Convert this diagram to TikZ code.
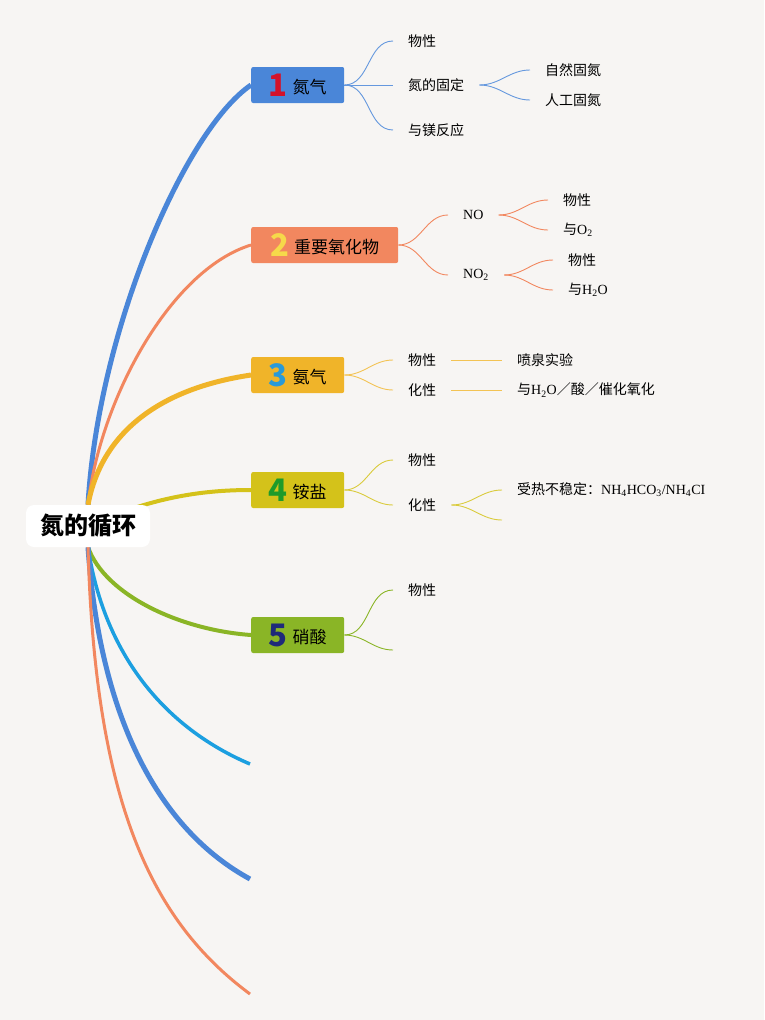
\documentclass[tikz,border=0pt]{standalone}
\usepackage{fontspec}
\setmainfont{Noto Sans CJK SC}
\newfontfamily\ser{Liberation Serif}
\usetikzlibrary{backgrounds}

\definecolor{paper}{HTML}{F7F5F3}
\definecolor{bblue}{HTML}{4A86D8}
\definecolor{bsalmon}{HTML}{F2875F}
\definecolor{bamber}{HTML}{F0B429}
\definecolor{bolive}{HTML}{D4C21A}
\definecolor{bgreen}{HTML}{8AB526}
\definecolor{bcyan}{HTML}{1C9FE0}
\definecolor{nred}{HTML}{D3122A}
\definecolor{nyellow}{HTML}{F6D94A}
\definecolor{nblue}{HTML}{2A9AD8}
\definecolor{ngreen}{HTML}{1E9B2A}
\definecolor{nnavy}{HTML}{1F2A7A}

\newcommand{\topicnum}[2]{\raisebox{-3pt}{\fontsize{31}{31}\selectfont\bfseries\color{#1}#2}\hspace{5pt}}

\begin{document}
\begin{tikzpicture}[x=1pt,y=-1pt,
    every node/.style={font=\fontsize{14}{16}\selectfont},
    topic/.style={fill=#1, rounded corners=2pt, anchor=west, minimum height=36pt,
        minimum width=93pt, inner xsep=6pt, inner ysep=2pt, font=\fontsize{17}{20}\selectfont},
    leaf/.style={anchor=west, inner xsep=15pt, inner ysep=0pt},
    twig/.style={draw=#1, line width=0.9pt}]
    % root and topics
    \node[fill=white, rounded corners=8pt, minimum width=124pt, minimum height=42pt,
        font=\fontsize{24}{24}\selectfont\bfseries] (root) at (88,526) {氮的循环};
    \node[topic=bblue] (n1) at (251,85) {\topicnum{nred}{1}氮气};
    \node[topic=bsalmon, minimum width=147pt] (n2) at (251,245) {\topicnum{nyellow}{2}重要氧化物};
    \node[topic=bamber] (n3) at (251,375) {\topicnum{nblue}{3}氨气};
    \node[topic=bolive] (n4) at (251,490) {\topicnum{ngreen}{4}铵盐};
    \node[topic=bgreen] (n5) at (251,635) {\topicnum{nnavy}{5}硝酸};
    \coordinate (n6) at (250,764);
    \coordinate (n7) at (250,879);
    \coordinate (n8) at (250,994);

    % 1
    \node[leaf] (n1a) at (393,41) {物性};
    \node[leaf] (n1b) at (393,85) {氮的固定};
    \node[leaf] (n1c) at (393,130) {与镁反应};
    \node[leaf] (n1b1) at (530,70) {自然固氮};
    \node[leaf] (n1b2) at (530,100) {人工固氮};
    % 2
    \node[leaf] (n2a) at (448,215) {\ser NO};
    \node[leaf] (n2b) at (448,275) {\ser NO\textsubscript{2}};
    \node[leaf] (n2a1) at (548,200) {物性};
    \node[leaf] (n2a2) at (548,230) {与{\ser O\textsubscript{2}}};
    \node[leaf] (n2b1) at (553,260) {物性};
    \node[leaf] (n2b2) at (553,290) {与{\ser H\textsubscript{2}O}};
    % 3
    \node[leaf] (n3a) at (393,360) {物性};
    \node[leaf] (n3b) at (393,390) {化性};
    \node[leaf] (n3a1) at (502,360) {喷泉实验};
    \node[leaf] (n3b1) at (502,390) {与{\ser H\textsubscript{2}O}／酸／催化氧化};
    % 4
    \node[leaf] (n4a) at (393,460) {物性};
    \node[leaf] (n4b) at (393,505) {化性};
    \node[leaf] (n4b1) at (502,490) {受热不稳定：{\ser NH\textsubscript{4}HCO\textsubscript{3}/NH\textsubscript{4}CI}};
    \coordinate (n4b2) at (502,520);
    % 5
    \node[leaf] (n5a) at (393,590) {物性};
    \coordinate (n5b) at (393,650);

    \begin{scope}[on background layer]
        \fill[paper] (0,0) rectangle (764,1020);
        % main branches
        \draw[bblue, line width=5pt] (root.north) .. controls (98,330) and (185,130) .. (n1.west);
        \draw[bsalmon, line width=3pt] (root.north) .. controls (100,400) and (170,270) .. (n2.west);
        \draw[bamber, line width=5pt] (root.north) .. controls (100,440) and (150,390) .. (n3.west);
        \draw[bolive, line width=4pt] (root.center) .. controls (150,498) and (200,490) .. (n4.west);
        \draw[bgreen, line width=4pt] (root.south) .. controls (105,595) and (180,630) .. (n5.west);
        \draw[bcyan, line width=3.5pt] (root.south) .. controls (105,660) and (170,730) .. (n6);
        \draw[bblue, line width=5pt] (root.south) .. controls (100,720) and (160,830) .. (n7);
        \draw[bsalmon, line width=3pt] (root.south) .. controls (95,800) and (150,920) .. (n8);
        % twigs
        \draw[twig=bblue!85] (n1.east) to[out=0,in=180] (n1a.west);
        \draw[twig=bblue!85] (n1.east) -- (n1b.west);
        \draw[twig=bblue!85] (n1.east) to[out=0,in=180] (n1c.west);
        \draw[twig=bblue!85] (n1b.east) to[out=0,in=180] (n1b1.west);
        \draw[twig=bblue!85] (n1b.east) to[out=0,in=180] (n1b2.west);
        \draw[twig=bsalmon] (n2.east) to[out=0,in=180] (n2a.west);
        \draw[twig=bsalmon] (n2.east) to[out=0,in=180] (n2b.west);
        \draw[twig=bsalmon] (n2a.east) to[out=0,in=180] (n2a1.west);
        \draw[twig=bsalmon] (n2a.east) to[out=0,in=180] (n2a2.west);
        \draw[twig=bsalmon] (n2b.east) to[out=0,in=180] (n2b1.west);
        \draw[twig=bsalmon] (n2b.east) to[out=0,in=180] (n2b2.west);
        \draw[twig=bamber!80] (n3.east) to[out=0,in=180] (n3a.west);
        \draw[twig=bamber!80] (n3.east) to[out=0,in=180] (n3b.west);
        \draw[twig=bamber!80] (n3a.east) -- (n3a1.west);
        \draw[twig=bamber!80] (n3b.east) -- (n3b1.west);
        \draw[twig=bolive!85] (n4.east) to[out=0,in=180] (n4a.west);
        \draw[twig=bolive!85] (n4.east) to[out=0,in=180] (n4b.west);
        \draw[twig=bolive!85] (n4b.east) to[out=0,in=180] (n4b1.west);
        \draw[twig=bolive!85] (n4b.east) to[out=0,in=180] (n4b2);
        \draw[twig=bgreen] (n5.east) to[out=0,in=180] (n5a.west);
        \draw[twig=bgreen] (n5.east) to[out=0,in=180] (n5b);
    \end{scope}
\end{tikzpicture}
\end{document}
